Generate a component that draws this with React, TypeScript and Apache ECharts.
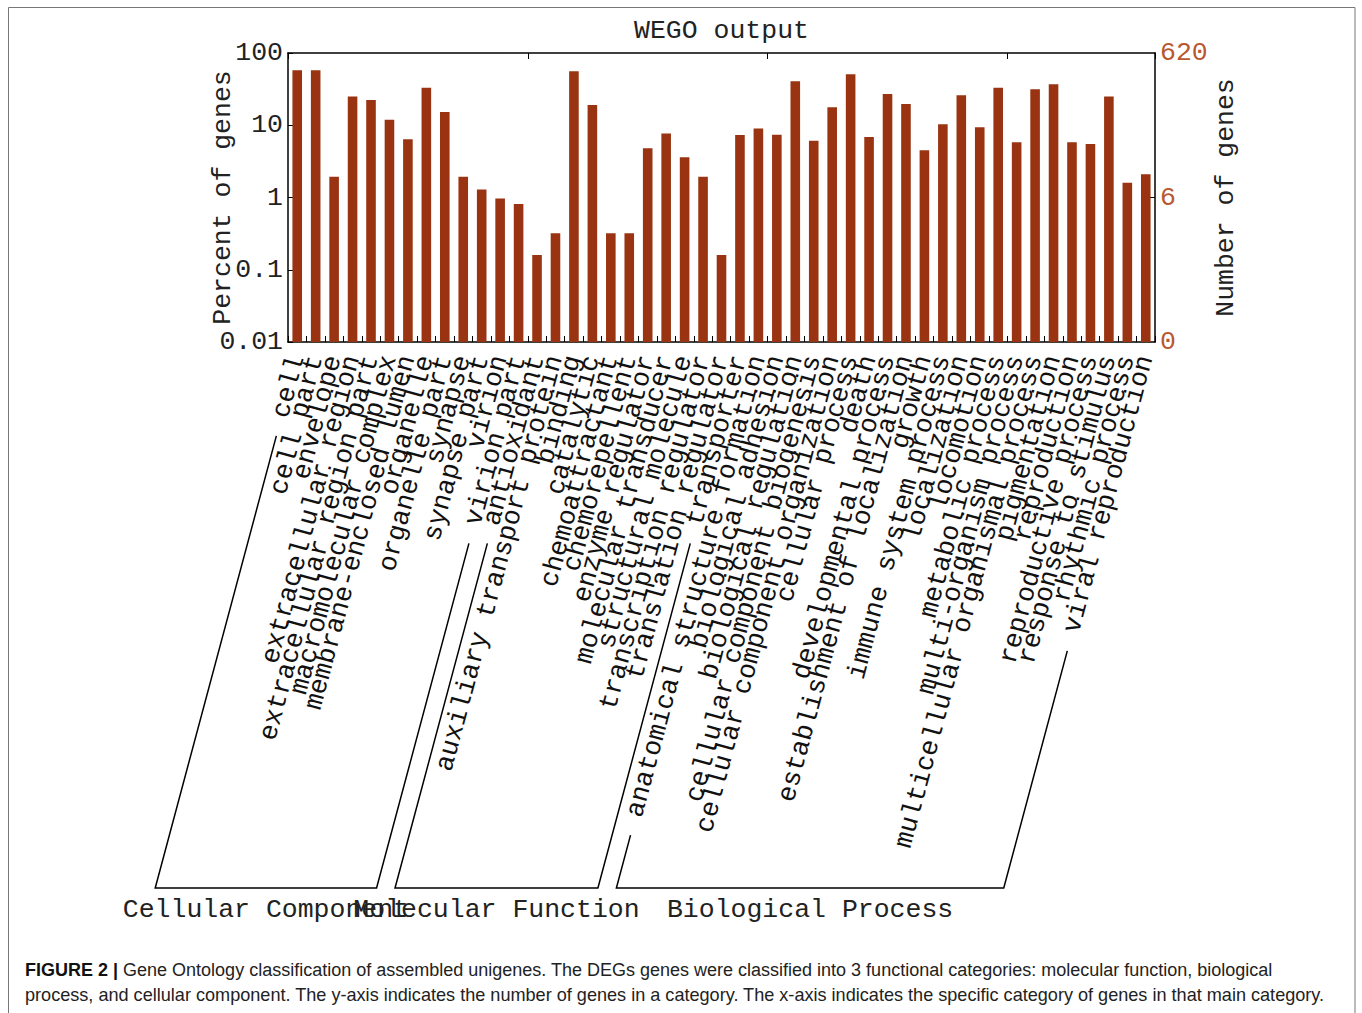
import React, { useEffect, useRef } from "react";
import * as echarts from "echarts";

const categories: string[] = [
  "cell", "cell part", "envelope", "extracellular region", "extracellular region part",
  "macromolecular complex", "membrane-enclosed lumen", "organelle", "organelle part",
  "synapse", "synapse part", "virion", "virion part",
  "antioxidant", "auxiliary transport protein", "binding", "catalytic", "chemoattractant",
  "chemorepellent", "enzyme regulator", "molecular transducer", "structural molecule",
  "transcription regulator", "translation regulator", "transporter",
  "anatomical structure formation", "biological adhesion", "biological regulation",
  "cellular component biogenesis", "cellular component organization", "cellular process",
  "death", "developmental process", "establishment of localization", "growth",
  "immune system process", "localization", "locomotion", "metabolic process",
  "multi-organism process", "multicellular organismal process", "pigmentation",
  "reproduction", "reproductive process", "response to stimulus", "rhythmic process",
  "viral reproduction",
];

const percentValues: number[] = [
  57.8, 57.8, 1.94, 25, 22.3, 11.9, 6.4, 33, 15.2, 1.94, 1.29, 0.97, 0.81,
  0.16, 0.32, 56, 19, 0.32, 0.32, 4.8, 7.7, 3.6, 1.94, 0.16, 7.3,
  9.0, 7.4, 40.6, 6.1, 17.7, 51, 6.9, 27, 19.7, 4.5, 10.3, 26, 9.4, 33, 5.8,
  31.5, 37, 5.8, 5.5, 25, 1.6, 2.1,
];

const groupNames: string[] = ["Cellular Component", "Molecular Function", "Biological Process"];
const groupSizes: number[] = [13, 12, 22];

const leftTickLabels: string[] = ["0.01", "0.1", "1", "10", "100"];
const rightTickPercents: number[] = [0.01, 1, 100];
const rightTickLabels: string[] = ["0", "6", "620"];

const titleText = "WEGO output";
const leftAxisName = "Percent of genes";
const rightAxisName = "Number of genes";
const captionBold = "FIGURE 2 |";
const captionLine1 =
  " Gene Ontology classification of assembled unigenes. The DEGs genes were classified into 3 functional categories: molecular function, biological";
const captionLine2 =
  "process, and cellular component. The y-axis indicates the number of genes in a category. The x-axis indicates the specific category of genes in that main category.";

const MONO = "'Liberation Mono', 'DejaVu Sans Mono', monospace";
const SANS = "'Liberation Sans Narrow', 'Liberation Sans', Arial, sans-serif";
const FS = 26.5;
const ROT = 75;
const BAR_COLOR = "#993311";
const RIGHT_COLOR = "#b8582f";

export default function App() {
  const ref = useRef<HTMLDivElement>(null);

  useEffect(() => {
    if (!ref.current) return;
    const chart = echarts.init(ref.current, null, { renderer: "svg" });
    const gridLeft = 288;
    const gridRight = 207;
    const gridTop = 53;
    const gridBottom = 671;
    const labelMargin = 14;

    const axisLineStyle = { color: "#000", width: 1.5 };

    const option: any = {
      animation: false,
      backgroundColor: "#ffffff",
      grid: { left: gridLeft, right: gridRight, top: gridTop, bottom: gridBottom, containLabel: false },
      xAxis: [
        {
          type: "category",
          data: categories,
          position: "bottom",
          boundaryGap: true,
          axisLine: { show: true, lineStyle: axisLineStyle },
          axisTick: { show: true, inside: true, length: 6, lineStyle: { color: "#000", width: 1 } },
          axisLabel: {
            interval: 0,
            rotate: ROT,
            margin: labelMargin,
            fontFamily: MONO,
            fontSize: FS,
            color: "#111",
          },
          splitLine: { show: false },
        },
        {
          type: "category",
          data: categories,
          position: "top",
          boundaryGap: true,
          axisLine: { show: true, lineStyle: axisLineStyle },
          axisTick: { show: true, inside: true, length: 6, lineStyle: { color: "#000", width: 1 } },
          axisLabel: { show: false },
          splitLine: { show: false },
        },
      ],
      yAxis: [
        {
          type: "log",
          logBase: 10,
          min: 0.01,
          max: 100,
          startValue: 0.01,
          position: "left",
          name: leftAxisName,
          nameLocation: "middle",
          nameRotate: 90,
          nameGap: 52,
          nameMoveOverlap: false,
          nameTextStyle: { fontFamily: MONO, fontSize: FS, color: "#222" },
          axisLine: { show: true, lineStyle: axisLineStyle },
          axisTick: { show: true, inside: true, length: 5, lineStyle: { color: "#000" } },
          minorTick: { show: false },
          splitLine: { show: false },
          axisLabel: {
            margin: 5,
            fontFamily: MONO,
            fontSize: FS,
            color: "#222",
            formatter: (v: number) => leftTickLabels[Math.round(Math.log10(v)) + 2] ?? "",
          },
        },
        {
          type: "log",
          logBase: 10,
          min: 0.01,
          max: 100,
          position: "right",
          name: rightAxisName,
          nameLocation: "middle",
          nameRotate: 90,
          nameGap: 57,
          nameMoveOverlap: false,
          nameTextStyle: { fontFamily: MONO, fontSize: FS, color: "#222" },
          axisLine: { show: true, lineStyle: axisLineStyle },
          axisTick: { show: false },
          minorTick: { show: false },
          splitLine: { show: false },
          axisLabel: {
            margin: 5,
            fontFamily: MONO,
            fontSize: FS,
            color: RIGHT_COLOR,
            formatter: (v: number) => {
              const e = Math.round(Math.log10(v));
              const idx = rightTickPercents.findIndex((p) => Math.round(Math.log10(p)) === e);
              return idx >= 0 ? rightTickLabels[idx] : "";
            },
          },
        },
      ],
      series: [
        {
          type: "bar",
          data: percentValues,
          xAxisIndex: 0,
          yAxisIndex: 0,
          barWidth: "52%",
          itemStyle: { color: BAR_COLOR },
        },
      ],
    };
    chart.setOption(option);

    // Annotations computed from the chart's own scales
    const axisY = chart.convertToPixel({ yAxisIndex: 0 }, 0.01) as number;
    const topY = chart.convertToPixel({ yAxisIndex: 0 }, 100) as number;
    const oneY = chart.convertToPixel({ yAxisIndex: 0 }, rightTickPercents[1]) as number;
    const xFirst = chart.convertToPixel({ xAxisIndex: 0 }, categories[0]) as number;
    const xLast = chart.convertToPixel({ xAxisIndex: 0 }, categories[categories.length - 1]) as number;
    const step = (xLast - xFirst) / (categories.length - 1);
    const plotLeft = xFirst - step / 2;
    const plotRight = xLast + step / 2;

    const th = (ROT * Math.PI) / 180;
    const cosT = Math.cos(th);
    const sinT = Math.sin(th);
    const anchorY = axisY + 16;
    const bracketY = 888;
    const gap = 17;
    const charW = FS * 0.6;

    const graphics: any[] = [];
    graphics.push({
      type: "rect",
      z: -1,
      shape: { x: 8.5, y: 7.5, width: 1346.5, height: 1012 },
      style: { fill: "none", stroke: "#777", lineWidth: 1 },
      silent: true,
    });
    // inward tick on the right axis at the "6" gene mark
    graphics.push({
      type: "line",
      shape: { x1: plotRight - 6, y1: oneY, x2: plotRight, y2: oneY },
      style: { stroke: "#000", lineWidth: 1 },
      silent: true,
    });
    graphics.push({
      type: "text",
      x: (plotLeft + plotRight) / 2,
      y: topY - 22,
      style: {
        text: titleText,
        fontFamily: MONO,
        fontSize: FS,
        fill: "#222",
        align: "center",
        verticalAlign: "middle",
      },
    });

    let start = 0;
    groupSizes.forEach((size, gi) => {
      const a = start;
      const b = start + size - 1;
      start += size;
      const xa = chart.convertToPixel({ xAxisIndex: 0 }, categories[a]) as number;
      const xb = chart.convertToPixel({ xAxisIndex: 0 }, categories[b]) as number;
      const da = categories[a].length * charW + gap;
      const db = categories[b].length * charW + gap;
      const leftTop = [xa - da * cosT, anchorY + da * sinT];
      const rightTop = [xb - db * cosT, anchorY + db * sinT];
      const leftBottom = [xa - ((bracketY - anchorY) * cosT) / sinT, bracketY];
      const rightBottom = [xb - ((bracketY - anchorY) * cosT) / sinT, bracketY];
      graphics.push({
        type: "polyline",
        shape: { points: [leftTop, leftBottom, rightBottom, rightTop] },
        style: { stroke: "#000", lineWidth: 1.5, fill: "none" },
        silent: true,
      });
      graphics.push({
        type: "text",
        x: (leftBottom[0] + rightBottom[0]) / 2,
        y: bracketY + 22,
        style: {
          text: groupNames[gi],
          fontFamily: MONO,
          fontSize: FS,
          fill: "#222",
          align: "center",
          verticalAlign: "middle",
        },
      });
    });

    graphics.push({
      type: "text",
      x: 25,
      y: 970,
      style: {
        text: "{b|" + captionBold + "}" + captionLine1,
        fontFamily: SANS,
        fontSize: 18,
        fill: "#222",
        verticalAlign: "middle",
        rich: {
          b: { fontFamily: SANS, fontSize: 18, fontWeight: "bold", fill: "#111" },
        },
      },
    });
    graphics.push({
      type: "text",
      x: 25,
      y: 995,
      style: {
        text: captionLine2,
        fontFamily: SANS,
        fontSize: 18.1,
        fill: "#222",
        verticalAlign: "middle",
      },
    });

    chart.setOption({ graphic: graphics });

    return () => {
      chart.dispose();
    };
  }, []);

  return (
    <div
      ref={ref}
      style={{ position: "absolute", left: 0, top: 0, width: 1362, height: 1013, background: "#fff" }}
    />
  );
}
